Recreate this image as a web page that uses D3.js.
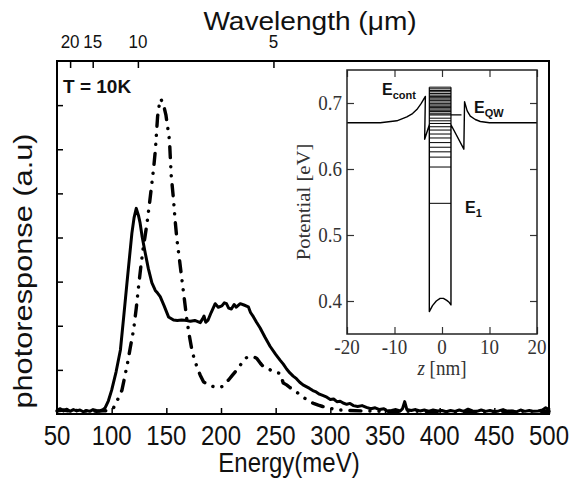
<!DOCTYPE html>
<html><head><meta charset="utf-8">
<script src="https://cdn.jsdelivr.net/npm/d3@7"></script>
<style>body{margin:0;background:#fff} svg{display:block}</style>
</head><body>
<svg id="c" width="572" height="490"></svg>
<script>
// ---------------- DATA ----------------
const energyTicks = [50,100,150,200,250,300,350,400,450,500];
const energyMinor = d3.range(50, 501, 10);
const wavelengthMajor = [20,15,10,5];
const wavelengthMinor = [24,23,22,21,19,18,17,16,14,13,12,11,9,8,7,6,4,3];
const signalTicks = [1,2,3,4,5,6,7];

// solid curve [energy meV, photoresponse a.u.]
const solidSeries = [
 [50,0.09],[53,0.12],[56,0.07],[59,0.11],[62,0.06],[65,0.10],[68,0.07],[71,0.09],[74,0.05],[77,0.08],
 [80,0.06],[83,0.10],[86,0.08],[89,0.07],[92,0.10],[94,0.14],[97,0.30],[100,0.54],[104,0.95],[108,1.45],
 [111,2.20],[114,2.97],[116.5,3.60],[118.5,4.10],[120.5,4.45],[122.5,4.66],[124.5,4.50],[126,4.33],[128,4.00],
 [130.7,3.65],[133.5,3.30],[136.8,2.97],[139.9,2.80],[142,2.74],[144.4,2.66],[148,2.45],[152,2.20],[156.6,2.13],
 [160,2.12],[164,2.13],[168.8,2.12],[172,2.10],[176,2.12],[181,2.07],[183,2.15],[184.5,2.22],[186,2.08],[188,2.12],
 [191,2.30],[194.7,2.50],[197.5,2.42],[200.8,2.45],[203,2.52],[205,2.50],[207,2.40],[209.5,2.38],[212,2.48],
 [214,2.42],[217.6,2.50],[221,2.47],[225,2.43],[227,2.30],[229.7,2.20],[232.5,2.08],[235.8,1.95],[240,1.75],
 [245,1.53],[250,1.35],[254,1.22],[257,1.13],[260,1.02],[263,0.93],[266,0.86],[269,0.80],[272,0.72],[275,0.66],
 [278,0.62],[281,0.58],[284,0.53],[287,0.50],[290,0.45],[293,0.42],[296.8,0.38],[300,0.33],[303,0.34],[306,0.28],
 [309,0.29],[311.7,0.25],[315,0.22],[318,0.24],[321,0.19],[325,0.17],[329,0.19],[333,0.15],[337,0.12],[341,0.14],
 [345,0.10],[349,0.12],[352,0.07],[356,0.08],[360,0.10],[364,0.07],[366,0.12],[368,0.28],[370,0.10],[374,0.08],
 [378,0.10],[382,0.07],[386,0.09],[390,0.06],[394,0.09],[398,0.07],[402,0.08],[406,0.05],[410,0.08],[414,0.06],
 [418,0.09],[422,0.06],[426,0.11],[430,0.07],[434,0.06],[438,0.09],[442,0.06],[446,0.08],[450,0.05],[454,0.07],
 [458,0.10],[462,0.06],[466,0.07],[470,0.05],[474,0.09],[478,0.06],[482,0.08],[486,0.06],[490,0.07],[494,0.09],
 [497,0.14],[500,0.10]
];

// dash-dot-dot curve [energy meV, photoresponse a.u.]
const dashSeries = [
 [50,0.07],[56,0.09],[62,0.06],[68,0.08],[74,0.06],[80,0.08],[86,0.06],[92,0.07],[98,0.08],[101.7,0.14],
 [105,0.30],[109.4,0.54],[112,0.85],[114.5,1.15],[117,1.50],[120,1.90],[122.5,2.40],[124.6,2.89],[126.5,3.30],
 [128.6,3.72],[130.5,4.02],[132.3,4.32],[134.5,4.75],[136.8,5.23],[138.5,5.60],[140,5.99],[142,6.74],[143.5,7.00],
 [145,7.14],[147.5,7.00],[149.6,6.78],[151.5,6.45],[152.9,6.20],[153.6,5.83],[154.5,5.40],[156.6,4.85],[158,4.40],
 [159.7,3.95],[162,3.50],[164.3,3.04],[166.5,2.60],[168.8,2.13],[171,1.78],[173.4,1.45],[175.5,1.25],[178,1.07],
 [181,0.88],[184,0.73],[188,0.66],[193.1,0.62],[197,0.60],[200.8,0.62],[204,0.70],[206.9,0.77],[210.5,0.88],
 [214.5,1.00],[217.5,1.10],[220.6,1.22],[223.5,1.28],[226.7,1.30],[229.7,1.30],[232.8,1.26],[236,1.15],[238.9,1.07],
 [242,1.04],[245,1.00],[248,0.96],[251,0.94],[254,0.92],[257,0.70],[260,0.66],[263,0.60],[266,0.55],[269,0.50],
 [273,0.42],[277,0.35],[281,0.28],[284.6,0.24],[289,0.20],[293,0.17],[298,0.14],[305,0.10],[315,0.08],[330,0.07],
 [350,0.06],[380,0.06],[420,0.05],[460,0.06],[500,0.06]
];

// inset: potential profile [z nm, V eV]
const insetZTicks = [-20,-10,0,10,20];
const insetZMinor = [-15,-5,5,15];
const insetVTicks = [0.4,0.5,0.6,0.7];
const insetVMinor = [0.35,0.45,0.55,0.65,0.75];
const potentialProfile = [
 [-20,0.670],[-13,0.670],[-9.5,0.673],[-7.4,0.679],[-6.2,0.684],[-5.3,0.690],[-4.4,0.699],[-3.5,0.710],
 [-3.65,0.645],[-2.67,0.667],[-2.67,0.384],[-2.0,0.393],[-1.2,0.400],[-0.4,0.404],[0.3,0.404],[1.0,0.401],
 [1.5,0.398],[1.89,0.394],[1.89,0.667],[4.6,0.630],[4.75,0.702],[5.3,0.688],[5.96,0.680],[7.0,0.675],
 [8.06,0.672],[10,0.670],[11.6,0.670],[20,0.670]
];
const boundLevels = [0.548,0.603,0.618,0.626,0.633,0.640,0.647,0.653,0.659,0.664,0.669,0.673,0.677,
 0.6845,0.687,0.689,0.691,0.693,0.695,0.697,0.699,0.7015,0.704,0.706,0.708,0.710,0.712,0.7145,0.717,0.719,0.7215,0.724];
const eqwLevel = 0.682;

// ---------------- DRAW ----------------
const svg = d3.select("#c");
const SANS = "'Liberation Sans', Arial, Helvetica, sans-serif";
const SERIF = "'Liberation Serif', 'Times New Roman', Times, serif";

const xMain = d3.scaleLinear().domain([50,500]).range([57,549]);
const yMain = d3.scaleLinear().domain([0,8]).range([414,61]);

function label(x, y, str, o) {
  const t = svg.append("text")
    .attr("transform", `translate(${x},${y}) rotate(${o.rot||0}) scale(${o.sx||1},${o.sy||1})`)
    .attr("text-anchor", o.anchor || "middle")
    .attr("font-family", o.font || SANS)
    .attr("font-size", o.size)
    .attr("font-weight", o.weight || "normal")
    .attr("fill", o.fill || "#111");
  if (o.html) t.html(str); else t.text(str);
  return t;
}

// main curves
const lineMain = d3.line().x(d => xMain(d[0])).y(d => yMain(d[1]));
svg.append("path").datum(dashSeries).attr("d", lineMain)
  .attr("fill","none").attr("stroke","#000").attr("stroke-width",3.4)
  .attr("stroke-linecap","round").attr("stroke-linejoin","round")
  .attr("stroke-dasharray","11,9,0.1,9,0.1,9");
svg.append("path").datum(solidSeries).attr("d", lineMain)
  .attr("fill","none").attr("stroke","#000").attr("stroke-width",3)
  .attr("stroke-linejoin","round");

// main axes: ticks inward
const gB = svg.append("g").attr("transform","translate(0,414)");
gB.call(d3.axisBottom(xMain).tickValues(energyMinor).tickSize(-4).tickFormat(""));
gB.call(d3.axisBottom(xMain).tickValues(energyTicks).tickSize(-6).tickFormat(""));
const gT = svg.append("g").attr("transform","translate(0,61)");
gT.call(d3.axisTop(xMain).tickValues(wavelengthMinor.map(l => 1239.84/l)).tickSize(-4).tickFormat(""));
gT.call(d3.axisTop(xMain).tickValues(wavelengthMajor.map(l => 1239.84/l)).tickSize(-7).tickFormat(""));
const gL = svg.append("g").attr("transform","translate(57,0)");
gL.call(d3.axisLeft(yMain).tickValues(signalTicks).tickSize(-6).tickFormat(""));
svg.selectAll(".domain").remove();
svg.selectAll(".tick line").attr("stroke","#000").attr("stroke-width",1.5);

svg.append("rect").attr("x",57).attr("y",61).attr("width",492).attr("height",353)
  .attr("fill","none").attr("stroke","#000").attr("stroke-width",2);

// main tick labels
energyTicks.forEach(v => label(xMain(v), 445, v, {size:24, sy:1.12}));
wavelengthMajor.forEach(l => label(xMain(1239.84/l), 48, l, {size:17, sy:1.12}));
label(289, 472, "Energy(meV)", {size:24, sy:1.12});
label(310, 30, "Wavelength (\u03bcm)", {size:26, sx:1.08});
label(32, 271, "photoresponse (a.u)", {size:25, rot:-90, sx:1.23});
label(63, 93, "T = 10K", {size:19, weight:"bold", anchor:"start"});

// ---------------- INSET ----------------
const xIn = d3.scaleLinear().domain([-20,20]).range([347,537]);
const yIn = d3.scaleLinear().domain([0.35,0.75]).range([334,70]);
svg.append("rect").attr("x",347).attr("y",70).attr("width",190).attr("height",264)
  .attr("fill","#fff").attr("stroke","none");

const ins = svg.append("g");
const lineIn = d3.line().x(d => xIn(d[0])).y(d => yIn(d[1]));
ins.selectAll("line.lvl").data(boundLevels).join("line").attr("class","lvl")
  .attr("x1", xIn(-2.67)).attr("x2", xIn(1.89))
  .attr("y1", d => yIn(d)).attr("y2", d => yIn(d))
  .attr("stroke","#000").attr("stroke-width",1);
ins.append("line").attr("x1", xIn(-2.67)).attr("x2", xIn(4.1))
  .attr("y1", yIn(eqwLevel)).attr("y2", yIn(eqwLevel))
  .attr("stroke","#000").attr("stroke-width",1.3);
ins.append("line").attr("x1", xIn(-2.67)).attr("x2", xIn(-2.67))
  .attr("y1", yIn(0.724)).attr("y2", yIn(0.667)).attr("stroke","#000").attr("stroke-width",1.2);
ins.append("line").attr("x1", xIn(1.89)).attr("x2", xIn(1.89))
  .attr("y1", yIn(0.724)).attr("y2", yIn(0.667)).attr("stroke","#000").attr("stroke-width",1.2);
ins.append("path").datum(potentialProfile).attr("d", lineIn)
  .attr("fill","none").attr("stroke","#000").attr("stroke-width",1.4).attr("stroke-linejoin","round");

const giB = ins.append("g").attr("transform","translate(0,334)");
giB.call(d3.axisBottom(xIn).tickValues(insetZMinor).tickSize(-4).tickFormat(""));
giB.call(d3.axisBottom(xIn).tickValues(insetZTicks).tickSize(-7).tickFormat(""));
const giT = ins.append("g").attr("transform","translate(0,70)");
giT.call(d3.axisTop(xIn).tickValues(insetZMinor).tickSize(-4).tickFormat(""));
giT.call(d3.axisTop(xIn).tickValues(insetZTicks).tickSize(-7).tickFormat(""));
const giL = ins.append("g").attr("transform","translate(347,0)");
giL.call(d3.axisLeft(yIn).tickValues(insetVMinor).tickSize(-4).tickFormat(""));
giL.call(d3.axisLeft(yIn).tickValues(insetVTicks).tickSize(-7).tickFormat(""));
const giR = ins.append("g").attr("transform","translate(537,0)");
giR.call(d3.axisRight(yIn).tickValues(insetVMinor).tickSize(-4).tickFormat(""));
giR.call(d3.axisRight(yIn).tickValues(insetVTicks).tickSize(-7).tickFormat(""));
ins.selectAll(".domain").remove();
ins.selectAll(".tick line").attr("stroke","#333").attr("stroke-width",1.2);
svg.append("rect").attr("x",347).attr("y",70).attr("width",190).attr("height",264)
  .attr("fill","none").attr("stroke","#222").attr("stroke-width",1.5);

insetZTicks.forEach(v => label(xIn(v), 354, v, {size:19, font:SERIF, sy:1.12, fill:"#333"}));
insetVTicks.forEach(v => label(342, yIn(v)+6.5, d3.format(".1f")(v), {size:19, font:SERIF, sy:1.12, anchor:"end", fill:"#333"}));
label(442, 375, '<tspan font-style="italic">z</tspan> [nm]', {size:19, font:SERIF, sy:1.12, html:true, fill:"#333"});
label(310, 202, "Potential [eV]", {size:18, font:SERIF, rot:-90, sx:1.15, fill:"#333"});

label(382, 95, 'E<tspan font-size="11" dy="4">cont</tspan>', {size:16, anchor:"start", html:true, weight:"600"});
label(474, 113, 'E<tspan font-size="11" dy="4">QW</tspan>', {size:16, anchor:"start", html:true, weight:"600"});
label(465, 213, 'E<tspan font-size="11" dy="4">1</tspan>', {size:16, anchor:"start", html:true, weight:"600"});
</script></body></html>
